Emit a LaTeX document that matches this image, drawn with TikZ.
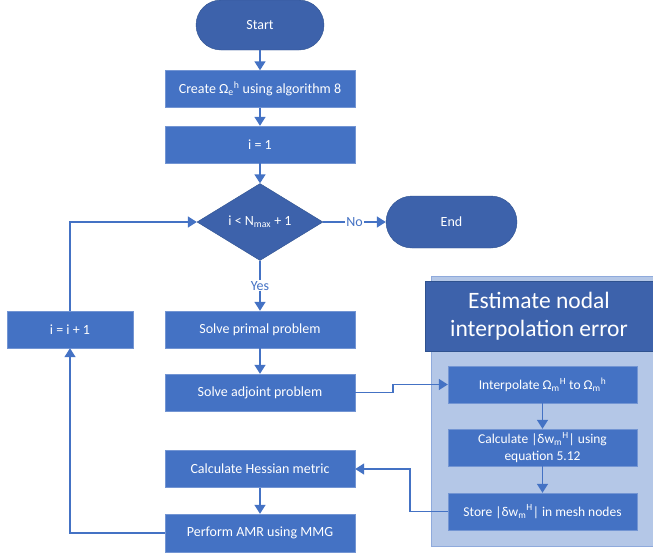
\documentclass[tikz,border=0pt]{standalone}
\usepackage{fontspec}
\setmainfont{Carlito}
\usepackage{tikz}
\usetikzlibrary{positioning}
\usetikzlibrary{shapes.geometric}
\usetikzlibrary{arrows.meta}
\definecolor{officeblue}{RGB}{68,114,196}
\definecolor{darkblue}{RGB}{61,98,171}
\definecolor{edgeblue}{RGB}{47,82,143}
\definecolor{panelblue}{RGB}{180,199,231}
\definecolor{paneledge}{RGB}{143,170,220}
\tikzset{block/.style={rectangle,draw=officeblue!75!white,fill=officeblue,text=white,minimum width=190pt,minimum height=37pt,inner sep=2pt,align=center,font=\fontsize{14}{16}\selectfont}}
\tikzset{subblock/.style={block,minimum width=189pt,font=\fontsize{13.5}{16.5}\selectfont}}
\tikzset{term/.style={rectangle,rounded corners=25pt,draw=edgeblue,fill=darkblue,text=white,minimum width=128pt,minimum height=50pt,font=\fontsize{14}{16}\selectfont}}
\tikzset{decision/.style={diamond,draw=edgeblue,fill=darkblue,text=white,inner sep=0pt,aspect=1.6,minimum width=126pt,minimum height=77pt,font=\fontsize{14}{16}\selectfont}}
\tikzset{panel/.style={rectangle,draw=paneledge,fill=panelblue,line width=1pt}}
\tikzset{header/.style={rectangle,draw=edgeblue,fill=darkblue,text=white,align=center,minimum width=228pt,minimum height=70pt,font=\fontsize{23.5}{28}\selectfont}}
\tikzset{line/.style={officeblue,line width=1.5pt,>={Triangle[length=9pt,width=11pt]}}}
\tikzset{branch/.style={fill=white,text=officeblue,inner sep=1pt,font=\fontsize{14}{16}\selectfont}}

\begin{document}
\begin{tikzpicture}[x=1pt,y=-1pt]
  \useasboundingbox[fill=white] (0,0) rectangle (653,552);

  % Main loop
  \node[term] (start) at (260,25) {Start};
  \node[block] (create) at (260,89) {Create Ω\textsubscript{e}\textsuperscript{h} using algorithm 8};
  \node[block] (init) at (260,144.5) {i = 1};
  \node[decision] (cond) at (260,222) {i < N\textsubscript{max} + 1};
  \node[term,minimum width=131pt,minimum height=52pt,rounded corners=26pt] (end) at (451.5,222) {End};
  \node[block] (primal) at (260,329.5) {Solve primal problem};
  \node[block] (adjoint) at (260,392.5) {Solve adjoint problem};
  \node[block] (hessian) at (260,469) {Calculate Hessian metric};
  \node[block,minimum height=38pt] (amr) at (260,533) {Perform AMR using MMG};
  \node[block,minimum width=126pt] (incr) at (70,329.5) {i = i + 1};

  % Error estimation
  \node[panel,minimum width=222pt,minimum height=270pt] (panel) at (542,411) {};
  \node[header] (title) at (539,316) {Estimate nodal\\interpolation error};
  \node[subblock] (interp) at (542.5,384.5) {Interpolate Ω\textsubscript{m}\textsuperscript{H} to Ω\textsubscript{m}\textsuperscript{h}};
  \node[subblock] (error) at (542.5,447.5) {Calculate |δw\textsubscript{m}\textsuperscript{H}| using\\equation 5.12};
  \node[subblock] (store) at (542.5,511.5) {Store |δw\textsubscript{m}\textsuperscript{H}| in mesh nodes};

  % Connectors
  \draw[line,->] (start) -- (create);
  \draw[line,->] (create) -- (init);
  \draw[line,->] (init) -- (cond);
  \draw[line,->] (cond) -- node[branch] {No} (end);
  \draw[line,->] (cond) -- node[branch] {Yes} (primal);
  \draw[line,->] (primal) -- (adjoint);
  \draw[line,->] (adjoint.east) -- ++(38,0) |- (interp.west);
  \draw[line,->] (interp) -- (error);
  \draw[line,->] (error) -- (store);
  \draw[line,->] (store.west) -- ++(-38,0) |- (hessian.east);
  \draw[line,->] (hessian) -- (amr);
  \draw[line,->] (amr.west) -| (incr.south);
  \draw[line,->] (incr.north) |- (cond.west);
\end{tikzpicture}
\end{document}
